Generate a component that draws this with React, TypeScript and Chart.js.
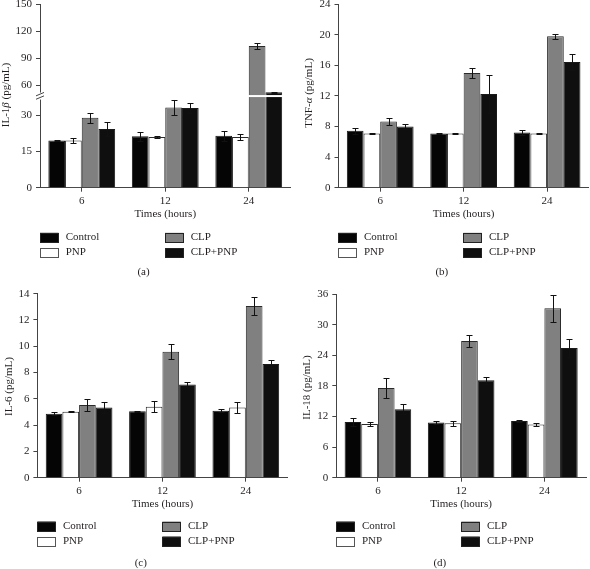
import React, { useEffect, useRef } from 'react';
import { Chart, registerables, LinearScale } from 'chart.js';

Chart.register(...registerables);

// ---------- data ----------
const times = ['6', '12', '24'];
const groupNames = ['Control', 'PNP', 'CLP', 'CLP+PNP'];

// (a) IL-1β
const il1bControl = [19.6, 21.3, 21.5];
const il1bControlErr = [0.3, 1.8, 2.2];
const il1bPnp = [19.6, 21.0, 21.0];
const il1bPnpErr = [1.2, 0.5, 1.2];
const il1bClp = [29.0, 33.3, 103.3];
const il1bClpErr = [2.0, 3.0, 3.0];
const il1bClpPnp = [24.3, 33.1, 51.9];
const il1bClpPnpErr = [3.0, 2.0, 0.8];
const il1bTicks = [0, 15, 30, 60, 90, 120, 150];
const il1bBreakLow = 38;
const il1bBreakHigh = 47.8;

// (b) TNF-α
const tnfControl = [7.43, 7.09, 7.2];
const tnfControlErr = [0.4, 0.05, 0.3];
const tnfPnp = [7.09, 7.09, 7.09];
const tnfPnpErr = [0.08, 0.1, 0.1];
const tnfClp = [8.65, 15.0, 19.78];
const tnfClpErr = [0.4, 0.7, 0.35];
const tnfClpPnp = [8.0, 12.26, 16.43];
const tnfClpPnpErr = [0.3, 2.5, 1.0];

// (c) IL-6
const il6Control = [4.87, 5.05, 5.1];
const il6ControlErr = [0.1, 0.05, 0.1];
const il6Pnp = [5.02, 5.4, 5.35];
const il6PnpErr = [0.05, 0.4, 0.4];
const il6Clp = [5.53, 9.59, 13.06];
const il6ClpErr = [0.45, 0.55, 0.68];
const il6ClpPnp = [5.35, 7.1, 8.65];
const il6ClpPnpErr = [0.4, 0.2, 0.28];

// (d) IL-18
const il18Control = [10.9, 10.8, 11.1];
const il18ControlErr = [0.8, 0.3, 0.15];
const il18Pnp = [10.5, 10.65, 10.45];
const il18PnpErr = [0.4, 0.5, 0.3];
const il18Clp = [17.6, 26.8, 33.2];
const il18ClpErr = [1.9, 1.1, 2.7];
const il18ClpPnp = [13.4, 19.1, 25.4];
const il18ClpPnpErr = [1.0, 0.7, 1.8];

// ---------- style ----------
const FONT = "'Liberation Serif', 'Times New Roman', serif";
const TEXT = '#231f20';
const AXIS = '#444';
const FILLS = ['#050505', '#ffffff', '#808080', '#0f0f0f'];
const BORDERS = ['#1a1a1a', '#2a2a2a', '#2a2a2a', '#1a1a1a'];
const BREAK_FRAC = 0.499;

class BrokenLinearScale extends LinearScale {
  static id = 'brokenLinear';
  static defaults = {};
  getPixelForValue(value: any) {
    if (value === null || value === undefined || isNaN(value)) return NaN;
    const min = (this as any).min;
    const max = (this as any).max;
    let d: number;
    if (value <= il1bBreakLow) d = ((value - min) / (il1bBreakLow - min)) * BREAK_FRAC;
    else if (value >= il1bBreakHigh)
      d = BREAK_FRAC + ((value - il1bBreakHigh) / (max - il1bBreakHigh)) * (1 - BREAK_FRAC);
    else d = BREAK_FRAC;
    return (this as any).getPixelForDecimal(d);
  }
  getValueForPixel(pixel: number) {
    const min = (this as any).min;
    const max = (this as any).max;
    const d = (this as any).getDecimalForPixel(pixel);
    if (d <= BREAK_FRAC) return min + (d / BREAK_FRAC) * (il1bBreakLow - min);
    return il1bBreakHigh + ((d - BREAK_FRAC) / (1 - BREAK_FRAC)) * (max - il1bBreakHigh);
  }
}
Chart.register(BrokenLinearScale as any);

type TitlePart = { t: string; i?: boolean };

interface PanelCfg {
  id: string;
  caption: string;
  top: number;
  left: number;
  height: number;
  series: number[][];
  errors: number[][];
  yType: string;
  yMax: number;
  yStep?: number;
  yTicks?: number[];
  title: TitlePart[];
  titleX: number;
  titleY: number;
  yWidth: number;
  padRight: number;
  padTop: number;
  padBottom: number;
  xHeight: number;
  legendX: number;
  legendRows: number[];
  captionY: number;
  broken?: boolean;
}

const panels: PanelCfg[] = [
  {
    id: 'a', caption: '(a)', top: 0, left: 0, height: 285,
    series: [il1bControl, il1bPnp, il1bClp, il1bClpPnp],
    errors: [il1bControlErr, il1bPnpErr, il1bClpErr, il1bClpPnpErr],
    yType: 'brokenLinear', yMax: 150, yTicks: il1bTicks,
    title: [{ t: 'IL-1' }, { t: 'β', i: true }, { t: ' (pg/mL)' }],
    titleX: 6.5, titleY: 95,
    yWidth: 40, padRight: 4.5, padTop: 0, padBottom: 64.4, xHeight: 32.9,
    legendX: 40, legendRows: [237.3, 252.5], captionY: 272.3, broken: true,
  },
  {
    id: 'b', caption: '(b)', top: 0, left: 295, height: 285,
    series: [tnfControl, tnfPnp, tnfClp, tnfClpPnp],
    errors: [tnfControlErr, tnfPnpErr, tnfClpErr, tnfClpPnpErr],
    yType: 'linear', yMax: 24, yStep: 4,
    title: [{ t: 'TNF-' }, { t: 'α', i: true }, { t: ' (pg/mL)' }],
    titleX: 13.7, titleY: 93,
    yWidth: 43.5, padRight: 1.2, padTop: 0, padBottom: 64.4, xHeight: 32.9,
    legendX: 43.3, legendRows: [237.3, 252.5], captionY: 272.3,
  },
  {
    id: 'c', caption: '(c)', top: 285, left: 0, height: 284,
    series: [il6Control, il6Pnp, il6Clp, il6ClpPnp],
    errors: [il6ControlErr, il6PnpErr, il6ClpErr, il6ClpPnpErr],
    yType: 'linear', yMax: 14, yStep: 2,
    title: [{ t: 'IL-6 (pg/mL)' }],
    titleX: 8.7, titleY: 101.5,
    yWidth: 37.4, padRight: 7.5, padTop: 8.7, padBottom: 58.1, xHeight: 33.2,
    legendX: 37.3, legendRows: [241, 256], captionY: 278.3,
  },
  {
    id: 'd', caption: '(d)', top: 285, left: 295, height: 284,
    series: [il18Control, il18Pnp, il18Clp, il18ClpPnp],
    errors: [il18ControlErr, il18PnpErr, il18ClpErr, il18ClpPnpErr],
    yType: 'linear', yMax: 36, yStep: 6,
    title: [{ t: 'IL-18 (pg/mL)' }],
    titleX: 12.3, titleY: 102.5,
    yWidth: 41.3, padRight: 4, padTop: 9, padBottom: 58.1, xHeight: 33.2,
    legendX: 41.3, legendRows: [241, 256], captionY: 278.3,
  },
];

function makePlugins(cfg: PanelCfg) {
  const errorBars = {
    id: 'errorBars' + cfg.id,
    afterDatasetsDraw(chart: any) {
      const ctx = chart.ctx;
      const ys = chart.scales.y;
      ctx.save();
      ctx.strokeStyle = '#111';
      ctx.lineWidth = 1;
      chart.data.datasets.forEach((ds: any, i: number) => {
        const meta = chart.getDatasetMeta(i);
        meta.data.forEach((el: any, j: number) => {
          const v = ds.data[j];
          const e = ds.errors[j];
          const x = Math.round(el.x) + 0.5;
          const yt = Math.round(ys.getPixelForValue(v + e)) + 0.5;
          const yb = Math.round(ys.getPixelForValue(v - e)) + 0.5;
          ctx.beginPath();
          ctx.moveTo(x, yt);
          ctx.lineTo(x, yb);
          ctx.moveTo(x - 3, yt);
          ctx.lineTo(x + 3, yt);
          ctx.moveTo(x - 3, yb);
          ctx.lineTo(x + 3, yb);
          ctx.stroke();
        });
      });
      ctx.restore();
    },
  };

  const decor = {
    id: 'decor' + cfg.id,
    afterDraw(chart: any) {
      const ctx = chart.ctx;
      const area = chart.chartArea;
      ctx.save();
      // axis break
      if (cfg.broken) {
        const yb = chart.scales.y.getPixelForValue(il1bBreakLow);
        ctx.fillStyle = '#fff';
        ctx.fillRect(area.left + 1, yb - 1, area.right - area.left, 2);
        ctx.fillRect(area.left - 2, yb - 3.5, 4, 7);
        ctx.strokeStyle = AXIS;
        ctx.lineWidth = 1;
        ctx.beginPath();
        ctx.moveTo(area.left - 4, yb - 0.2);
        ctx.lineTo(area.left + 4, yb - 3.6);
        ctx.moveTo(area.left - 4, yb + 3.2);
        ctx.lineTo(area.left + 4, yb - 0.2);
        ctx.stroke();
      }
      // y title
      ctx.fillStyle = TEXT;
      ctx.textBaseline = 'middle';
      ctx.textAlign = 'left';
      const fontFor = (p: TitlePart) => (p.i ? 'italic ' : '') + '11px ' + FONT;
      let total = 0;
      cfg.title.forEach((p) => {
        ctx.font = fontFor(p);
        total += ctx.measureText(p.t).width;
      });
      ctx.translate(cfg.titleX, cfg.titleY);
      ctx.rotate(-Math.PI / 2);
      let cx = -total / 2;
      cfg.title.forEach((p) => {
        ctx.font = fontFor(p);
        ctx.fillText(p.t, cx, 0);
        cx += ctx.measureText(p.t).width;
      });
      ctx.setTransform(1, 0, 0, 1, 0, 0);
      // legend (2 x 2, column-major)
      const order = [0, 2, 1, 3];
      order.forEach((di, k) => {
        const col = k % 2;
        const row = Math.floor(k / 2);
        const bx = cfg.legendX + col * 125;
        const by = cfg.legendRows[row];
        ctx.fillStyle = FILLS[di];
        ctx.fillRect(bx, by - 4.5, 18.5, 9.5);
        ctx.strokeStyle = di === 1 ? '#555' : '#222';
        ctx.lineWidth = 1;
        ctx.strokeRect(Math.round(bx) + 0.5, Math.round(by - 4.5) + 0.5, 18, 9);
        ctx.fillStyle = TEXT;
        ctx.font = '11px ' + FONT;
        ctx.textAlign = 'left';
        ctx.textBaseline = 'middle';
        ctx.fillText(groupNames[di], bx + 25.7, by);
      });
      // caption
      ctx.textAlign = 'center';
      ctx.font = '11px ' + FONT;
      ctx.fillText(cfg.caption, cfg.legendX + 103.5, cfg.captionY);
      ctx.restore();
    },
  };
  return [errorBars, decor];
}

function Panel({ cfg }: { cfg: PanelCfg }) {
  const ref = useRef<HTMLCanvasElement | null>(null);
  useEffect(() => {
    if (!ref.current) return;
    const datasets = cfg.series.map((s, i) => ({
      label: groupNames[i],
      data: s,
      errors: cfg.errors[i],
      backgroundColor: FILLS[i],
      borderColor: BORDERS[i],
      borderWidth: 1,
      barPercentage: 1,
      categoryPercentage: 0.8,
    }));
    const yTicks: any = {
      font: { family: FONT, size: 11, lineHeight: 0.01 },
      color: TEXT,
      padding: 4,
    };
    if (cfg.yStep) yTicks.stepSize = cfg.yStep;
    if (cfg.yTicks) yTicks.callback = (v: any) => String(v);
    const chart = new Chart(ref.current, {
      type: 'bar',
      data: { labels: times, datasets: datasets as any },
      options: {
        responsive: false,
        maintainAspectRatio: false,
        animation: false,
        layout: { padding: { left: 0, right: cfg.padRight, top: cfg.padTop, bottom: cfg.padBottom } },
        plugins: { legend: { display: false }, tooltip: { enabled: false } },
        scales: {
          x: {
            type: 'category',
            offset: true,
            grid: { display: true, drawOnChartArea: false, drawTicks: true, tickLength: 4, offset: false, color: AXIS },
            border: { display: true, color: AXIS },
            ticks: { font: { family: FONT, size: 11 }, color: TEXT, padding: 3, maxRotation: 0 },
            title: { display: true, text: 'Times (hours)', font: { family: FONT, size: 11 }, color: TEXT, padding: 0 },
            afterFit: (s: any) => { s.height = cfg.xHeight; },
          },
          y: {
            type: cfg.yType as any,
            min: 0,
            max: cfg.yMax,
            grid: { display: true, drawOnChartArea: false, drawTicks: true, tickLength: 4, color: AXIS },
            border: { display: true, color: AXIS },
            ticks: yTicks,
            afterBuildTicks: cfg.yTicks
              ? (s: any) => { s.ticks = cfg.yTicks!.map((v) => ({ value: v })); }
              : undefined,
            afterFit: (s: any) => { s.width = cfg.yWidth; },
          } as any,
        },
      } as any,
      plugins: makePlugins(cfg) as any,
    });
    return () => chart.destroy();
  }, [cfg]);
  return (
    <canvas
      ref={ref}
      width={295}
      height={cfg.height}
      style={{ position: 'absolute', left: cfg.left, top: cfg.top, width: 295, height: cfg.height }}
    />
  );
}

export default function App() {
  return (
    <div style={{ position: 'absolute', left: 0, top: 0, width: 590, height: 569, background: '#fff' }}>
      {panels.map((p) => (
        <Panel key={p.id} cfg={p} />
      ))}
    </div>
  );
}
